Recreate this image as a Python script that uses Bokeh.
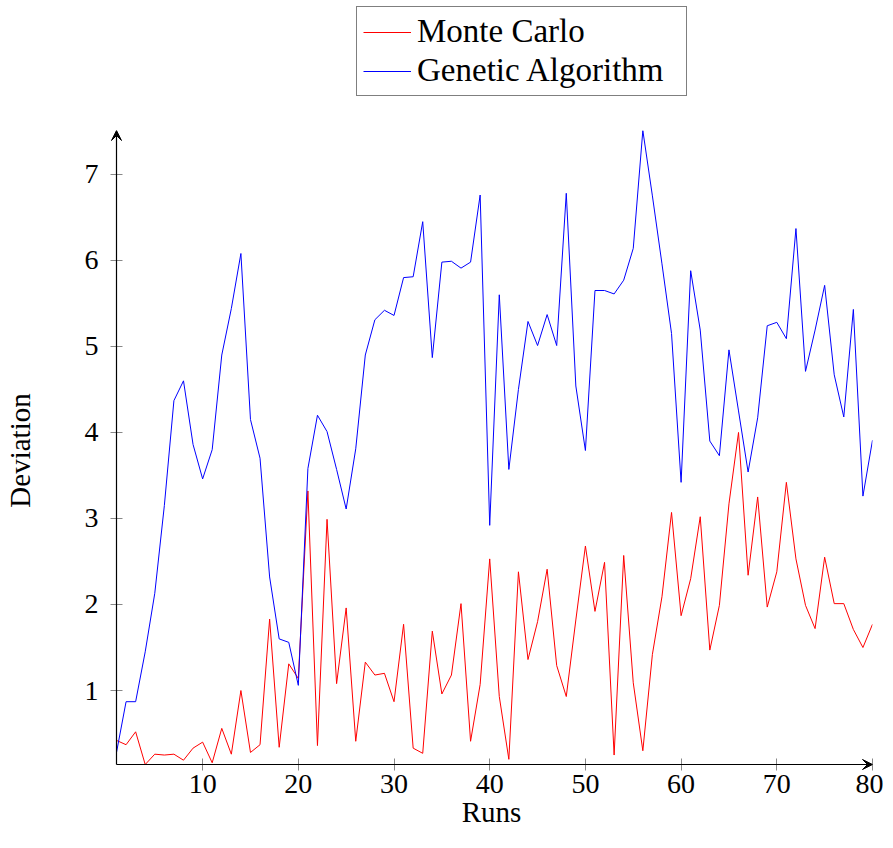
from bokeh.plotting import figure
from bokeh.layouts import column
from bokeh.models import Range1d, Legend, LegendItem, Arrow, VeeHead, FixedTicker
from bokeh.embed import file_html
from bokeh.resources import INLINE

runs = list(range(1, 81))
monte_carlo = [0.42, 0.37, 0.52, 0.14, 0.26, 0.25, 0.26, 0.19, 0.33, 0.40,
               0.16, 0.56, 0.26, 1.00, 0.28, 0.37, 1.83, 0.34, 1.31, 1.14,
               3.32, 0.36, 2.99, 1.08, 1.96, 0.41, 1.33, 1.18, 1.20, 0.87,
               1.77, 0.33, 0.27, 1.69, 0.96, 1.18, 2.01, 0.41, 1.07, 2.53,
               0.93, 0.20, 2.38, 1.36, 1.80, 2.41, 1.29, 0.93, 1.82, 2.68,
               1.92, 2.49, 0.25, 2.57, 1.09, 0.30, 1.42, 2.09, 3.07, 1.87,
               2.30, 3.02, 1.47, 1.99, 3.17, 4.00, 2.34, 3.25, 1.97, 2.38,
               3.42, 2.53, 1.99, 1.72, 2.55, 2.01, 2.01, 1.71, 1.50, 1.77]
genetic = [0.28, 0.87, 0.87, 1.45, 2.13, 3.15, 4.37, 4.60, 3.86, 3.46,
           3.80, 4.90, 5.44, 6.08, 4.15, 3.70, 2.32, 1.60, 1.56, 1.06,
           3.58, 4.20, 4.01, 3.57, 3.11, 3.81, 4.90, 5.31, 5.42, 5.36,
           5.80, 5.81, 6.45, 4.87, 5.98, 5.99, 5.91, 5.98, 6.76, 2.92,
           5.60, 3.57, 4.50, 5.29, 5.01, 5.37, 5.01, 6.78, 4.54, 3.79,
           5.65, 5.65, 5.61, 5.77, 6.14, 7.51, 6.75, 5.96, 5.15, 3.42,
           5.88, 5.19, 3.90, 3.73, 4.96, 4.25, 3.54, 4.17, 5.24, 5.28,
           5.09, 6.37, 4.71, 5.19, 5.71, 4.67, 4.18, 5.43, 3.26, 3.91]
x_ticks = [10, 20, 30, 40, 50, 60, 70, 80]
y_ticks = [1, 2, 3, 4, 5, 6, 7]
series_names = ["Monte Carlo", "Genetic Algorithm"]
series_colors = ["#ff0000", "#0000ff"]

FONT = "Liberation Serif"

xmin, xmax = min(runs), max(runs)
ymin = min(monte_carlo + genetic)
ymax = max(monte_carlo + genetic)

# layout constants (pixels)
FRAME_W, FRAME_H = 762, 640
PAD = 6  # gap between frame edge and the axis lines, so arrow heads are not clipped
TICK = 6
x_start = xmin - PAD * (xmax - xmin) / (FRAME_W - PAD)
y_start = ymin - PAD * (ymax - ymin) / (FRAME_H - PAD)

# ---- legend strip above the plot (its lines lie outside its own view) ----
lf = figure(width=880, height=122, output_backend="svg", toolbar_location=None,
            x_axis_type=None, y_axis_type=None,
            x_range=Range1d(-20, -10), y_range=Range1d(-20, -10),
            min_border_left=0, min_border_right=0, min_border_top=0, min_border_bottom=0)
lf.grid.visible = False
lf.outline_line_color = None
lr_mc = lf.line(runs, monte_carlo, line_color=series_colors[0], line_width=1)
lr_ga = lf.line(runs, genetic, line_color=series_colors[1], line_width=1)

legend = Legend(items=[LegendItem(label=series_names[0], renderers=[lr_mc]),
                       LegendItem(label=series_names[1], renderers=[lr_ga])],
                location=(246, 26))
legend.label_text_font = FONT
legend.label_text_font_size = "33px"
legend.label_text_color = "black"
legend.glyph_width = 48
legend.glyph_height = 36
legend.label_height = 36
legend.label_width = 263
legend.label_standoff = 6
legend.spacing = 2
legend.padding = 6
legend.margin = 0
legend.border_line_color = "black"
legend.border_line_width = 1
legend.background_fill_alpha = 1
lf.add_layout(legend)

# ---- main plot ----
p = figure(frame_width=FRAME_W, frame_height=FRAME_H, output_backend="svg",
           toolbar_location=None,
           x_range=Range1d(x_start, xmax), y_range=Range1d(y_start, ymax),
           min_border_left=107, min_border_right=11, min_border_top=8,
           min_border_bottom=0)
p.grid.visible = False
p.outline_line_color = None
p.background_fill_color = "white"

p.line(runs, monte_carlo, line_color=series_colors[0], line_width=1)
p.line(runs, genetic, line_color=series_colors[1], line_width=1)

for ax in (p.xaxis[0], p.yaxis[0]):
    ax.axis_line_color = None
    ax.major_tick_line_color = "#888888"
    ax.major_tick_in = PAD + TICK   # ticks centred on the axis line, which sits PAD inside
    ax.major_tick_out = 0
    ax.minor_tick_line_color = None
    ax.major_label_text_font = FONT
    ax.major_label_text_font_size = "28px"
    ax.major_label_text_color = "black"
    ax.axis_label_text_font = FONT
    ax.axis_label_text_font_size = "29px"
    ax.axis_label_text_font_style = "normal"
    ax.axis_label_text_color = "black"

p.xaxis.ticker = FixedTicker(ticks=x_ticks)
p.yaxis.ticker = FixedTicker(ticks=y_ticks)
p.xaxis.axis_label = "Runs"
p.yaxis.axis_label = "Deviation"
p.xaxis.major_label_standoff = 4
p.xaxis.axis_label_standoff = 0
p.yaxis.major_label_standoff = 12
p.yaxis.axis_label_standoff = 46

# axis lines with arrow heads
p.add_layout(Arrow(end=VeeHead(size=10, fill_color="black", line_color="black", line_width=1),
                   x_start=xmin, y_start=ymin, x_end=xmin, y_end=ymax,
                   line_color="black", line_width=1.2))
p.add_layout(Arrow(end=VeeHead(size=10, fill_color="black", line_color="black", line_width=1),
                   x_start=xmin, y_start=ymin, x_end=xmax, y_end=ymin,
                   line_color="black", line_width=1.2))

layout = column(lf, p, spacing=0)
open("out.html", "w").write(file_html(layout, INLINE))
